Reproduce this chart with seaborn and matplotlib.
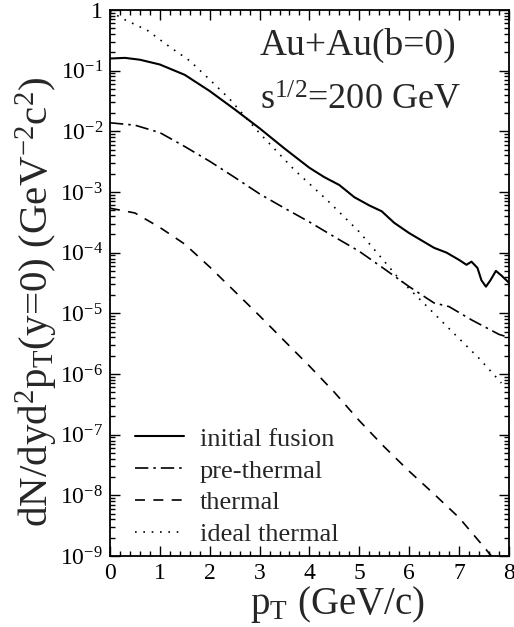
import numpy as np
import pandas as pd
import matplotlib
matplotlib.use("Agg")
import matplotlib.pyplot as plt
import matplotlib.ticker as mticker
import seaborn as sns

# valores (escala log em y)
pt_fusion = [0.0, 0.3, 0.6, 1.0, 1.5, 2.0, 2.5, 3.0, 3.5, 4.0, 4.3, 4.6, 4.9, 5.2, 5.45,
             5.7, 6.0, 6.5, 6.75, 7.0, 7.15, 7.25, 7.37, 7.45, 7.54, 7.63, 7.74, 7.85, 8.0]
initial_fusion = [1.58e-1, 1.62e-1, 1.51e-1, 1.26e-1, 8.5e-2, 4.6e-2, 2.3e-2, 1.12e-2, 5.2e-3,
                  2.5e-3, 1.75e-3, 1.3e-3, 8.2e-4, 6.0e-4, 4.8e-4, 3.1e-4, 2.1e-4, 1.2e-4,
                  1.0e-4, 7.6e-5, 6.3e-5, 7.1e-5, 5.6e-5, 3.5e-5, 2.75e-5, 3.5e-5, 5.0e-5,
                  4.2e-5, 3.2e-5]

pt_pre = [0.0, 0.5, 1.0, 1.5, 2.0, 2.5, 3.0, 3.5, 4.0, 4.5, 5.0, 5.5, 6.0, 6.5, 6.8, 7.25, 7.8, 8.0]
pre_thermal = [1.38e-2, 1.26e-2, 9.5e-3, 5.6e-3, 3.2e-3, 1.74e-3, 9.3e-4, 5.4e-4, 3.2e-4,
               1.82e-4, 1.05e-4, 5.4e-5, 2.75e-5, 1.48e-5, 1.29e-5, 7.8e-6, 4.5e-6, 4.0e-6]

pt_thermal = [0.0, 0.5, 1.0, 1.5, 2.0, 2.5, 3.0, 3.5, 4.0, 4.5, 5.0, 5.5, 6.0, 6.5, 7.0, 7.5, 7.8]
thermal = [5.4e-4, 4.5e-4, 2.6e-4, 1.38e-4, 5.8e-5, 2.3e-5, 9.1e-6, 3.5e-6, 1.35e-6, 5.0e-7,
           1.7e-7, 6.3e-8, 2.5e-8, 1.05e-8, 4.3e-9, 1.41e-9, 7.1e-10]

pt_ideal = [0.0, 0.25, 0.75, 1.2, 1.6, 2.0, 2.4, 3.0, 3.7, 4.35, 5.0, 5.8, 6.4, 6.85, 7.4, 7.85]
ideal_thermal = [9.5e-1, 7.2e-1, 4.6e-1, 2.45e-1, 1.45e-1, 7.1e-2, 3.4e-2, 9.3e-3, 2.3e-3,
                 7.4e-4, 2.2e-4, 3.7e-5, 1.2e-5, 5.1e-6, 1.82e-6, 7.1e-7]

ytick_vals = [1, 1e-1, 1e-2, 1e-3, 1e-4, 1e-5, 1e-6, 1e-7, 1e-8, 1e-9]
ytick_labels = ["1"] + [r"$10^{-%d}$" % i for i in range(1, 10)]

sns.set_theme(style="ticks")
plt.rcParams["font.family"] = ["Liberation Serif", "DejaVu Serif"]
plt.rcParams["mathtext.fontset"] = "custom"
plt.rcParams["mathtext.rm"] = "Liberation Serif"
plt.rcParams["mathtext.it"] = "Liberation Serif:italic"
plt.rcParams["mathtext.bf"] = "Liberation Serif:bold"

fig = plt.figure(figsize=(5.14, 6.27), dpi=100)
ax = fig.add_axes([0.214, 0.1132, 0.776, 0.871])

sns.lineplot(x=pt_fusion, y=initial_fusion, ax=ax, color="black", lw=1.5,
             linestyle="-", label="initial fusion")
sns.lineplot(x=pt_pre, y=pre_thermal, ax=ax, color="black", lw=1.2,
             linestyle=(0, (8, 3, 1.5, 3)), label="pre-thermal")
sns.lineplot(x=pt_thermal, y=thermal, ax=ax, color="black", lw=1.2,
             linestyle=(0, (6, 5)), label="thermal")
sns.lineplot(x=pt_ideal, y=ideal_thermal, ax=ax, color="black", lw=1.2,
             linestyle=(0, (1, 4)), label="ideal thermal")

ax.set_yscale("log")
ax.set_xlim(0, 8)
ax.set_ylim(1e-9, 1)
ax.set_yticks(ytick_vals)
ax.set_yticklabels(ytick_labels)
ax.yaxis.set_minor_locator(mticker.LogLocator(base=10, subs=np.arange(2, 10), numticks=20))
ax.yaxis.set_minor_formatter(mticker.NullFormatter())
ax.xaxis.set_major_locator(mticker.MultipleLocator(1))
ax.xaxis.set_minor_locator(mticker.MultipleLocator(0.2))

ax.tick_params(which="both", direction="in", top=True, right=True, colors="black",
               labelsize=17, width=1.0)
ax.tick_params(which="major", length=7, pad=5)
ax.tick_params(which="minor", length=3.5)
for sp in ax.spines.values():
    sp.set_linewidth(1.3)
    sp.set_color("black")

ax.set_xlabel(r"$\mathrm{p_T}$ (GeV/c)", fontsize=28)
ax.xaxis.set_label_coords(0.57, -0.052)
ax.xaxis.label.set_va("top")
ax.set_ylabel(r"dN/dyd$^2$p$_\mathrm{T}$(y=0) (GeV$^{-2}$c$^2$)", fontsize=29.5)
ax.yaxis.set_label_coords(-0.125, 0.465)

ax.text(0.376, 0.918, "Au+Au(b=0)", transform=ax.transAxes, fontsize=27, va="baseline")
ax.text(0.376, 0.817, r"s$^{1/2}$=200 GeV", transform=ax.transAxes, fontsize=26, va="baseline")

ax.legend(loc="upper left", bbox_to_anchor=(0.063, 0.236), frameon=False, fontsize=19,
          handlelength=1.85, handletextpad=0.6, labelspacing=0.32, borderaxespad=0,
          borderpad=0)

fig.savefig("out.png", dpi=100)
